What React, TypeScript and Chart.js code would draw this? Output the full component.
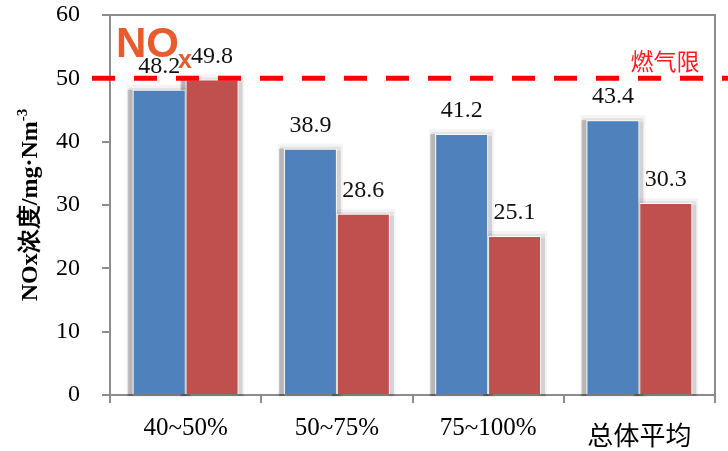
import React, { useEffect, useRef } from "react";
import { Chart, registerables } from "chart.js";

Chart.register(...registerables);

const categories = ["40~50%", "50~75%", "75~100%", "总体平均"];
const blueValues = [48.2, 38.9, 41.2, 43.4];
const redValues = [49.8, 28.6, 25.1, 30.3];
const limitValue = 50;
const limitLabel = "燃气限";
const yMin = 0;
const yMax = 60;
const yStep = 10;
const yTitleMain = "NOx浓度/mg·Nm";
const yTitleSup = "-3";
const titleMain = "NO";
const titleSub = "x";

const BLUE = "#4F81BD";
const RED = "#C0504D";
const AXIS = "#8c8c8c";

const shadowPlugin = {
  id: "barShadow",
  beforeDatasetsDraw(chart: any) {
    const ctx = chart.ctx;
    ctx.save();
    chart.data.datasets.forEach((_: any, di: number) => {
      const meta = chart.getDatasetMeta(di);
      meta.data.forEach((el: any) => {
        const w = el.width;
        const L = el.x - w / 2;
        const R = el.x + w / 2;
        const top = el.y;
        const base = el.base;
        ctx.fillStyle = "rgba(0,0,0,0.045)";
        ctx.fillRect(L - 6, top - 5, w + 12, base - top + 8);
        ctx.fillStyle = "rgba(0,0,0,0.07)";
        ctx.fillRect(L - 4, top - 2, w + 8, base - top + 4);
        ctx.fillStyle = "rgba(0,0,0,0.2)";
        ctx.fillRect(L - 5, top, 5, base - top + 2);
        ctx.fillStyle = "rgba(0,0,0,0.08)";
        ctx.fillRect(R, top + 2, 4, base - top);
      });
    });
    ctx.restore();
  },
};

const decorPlugin = {
  id: "decor",
  afterDraw(chart: any) {
    const ctx = chart.ctx;
    const area = chart.chartArea;
    const yScale = chart.scales.y;
    ctx.save();
    // top and right frame
    ctx.strokeStyle = AXIS;
    ctx.lineWidth = 2;
    ctx.beginPath();
    ctx.moveTo(area.left - 8, area.top);
    ctx.lineTo(area.right, area.top);
    ctx.lineTo(area.right, area.bottom + 8);
    ctx.stroke();

    // data labels
    ctx.fillStyle = "#111";
    ctx.font = "24px 'Liberation Serif', 'Times New Roman', serif";
    ctx.textAlign = "center";
    ctx.textBaseline = "alphabetic";
    chart.data.datasets.forEach((ds: any, di: number) => {
      const meta = chart.getDatasetMeta(di);
      meta.data.forEach((el: any, i: number) => {
        ctx.fillText(ds.data[i].toFixed(1), el.x, el.y - 17);
      });
    });

    // dashed limit line
    const ly = yScale.getPixelForValue(limitValue);
    ctx.strokeStyle = "#FF0000";
    ctx.lineWidth = 5;
    ctx.setLineDash([23, 19]);
    ctx.beginPath();
    ctx.moveTo(area.left - 18, ly);
    ctx.lineTo(chart.width, ly);
    ctx.stroke();
    ctx.setLineDash([]);

    // limit label
    ctx.fillStyle = "#FF1a1a";
    ctx.font = "23px 'Noto Sans CJK SC', sans-serif";
    ctx.textAlign = "center";
    ctx.textBaseline = "middle";
    ctx.fillText(limitLabel, 665, ly - 17);

    // NOx title
    ctx.fillStyle = "#E95A2C";
    ctx.textAlign = "left";
    ctx.textBaseline = "alphabetic";
    ctx.font = "bold 42px 'Liberation Sans', Arial, sans-serif";
    ctx.fillText(titleMain, 116, 57);
    ctx.font = "bold 25px 'Liberation Sans', Arial, sans-serif";
    ctx.fillText(titleSub, 178, 68);

    // y axis title
    ctx.fillStyle = "#000";
    ctx.translate(37, 205);
    ctx.rotate(-Math.PI / 2);
    const mainFont = "bold 24px 'Liberation Serif', 'Times New Roman', serif";
    const supFont = "bold 15px 'Liberation Serif', 'Times New Roman', serif";
    ctx.font = mainFont;
    const mw = ctx.measureText(yTitleMain).width;
    ctx.font = supFont;
    const sw = ctx.measureText(yTitleSup).width;
    const start = -(mw + sw) / 2;
    ctx.font = mainFont;
    ctx.fillText(yTitleMain, start, 0);
    ctx.font = supFont;
    ctx.fillText(yTitleSup, start + mw, -10);
    ctx.restore();
  },
};

export default function App() {
  const ref = useRef<HTMLCanvasElement | null>(null);
  useEffect(() => {
    if (!ref.current) return;
    const chart = new Chart(ref.current, {
      type: "bar",
      data: {
        labels: categories,
        datasets: [
          {
            data: blueValues,
            backgroundColor: BLUE,
            borderColor: "rgba(255,255,255,0.85)",
            borderWidth: 1,
            categoryPercentage: 0.7,
            barPercentage: 1,
          },
          {
            data: redValues,
            backgroundColor: RED,
            borderColor: "rgba(255,255,255,0.85)",
            borderWidth: 1,
            categoryPercentage: 0.7,
            barPercentage: 1,
          },
        ],
      },
      options: {
        responsive: false,
        animation: false,
        layout: { padding: { left: 0, right: 13, top: 15, bottom: 0 } },
        plugins: {
          legend: { display: false },
          tooltip: { enabled: false },
        },
        scales: {
          x: {
            afterFit(scale: any) {
              scale.height = 56;
              scale.paddingLeft = 0;
              scale.paddingRight = 0;
            },
            grid: {
              drawOnChartArea: false,
              drawTicks: true,
              tickLength: 8,
              color: AXIS,
              lineWidth: 2,
              offset: true,
            },
            border: { display: true, color: AXIS, width: 2 },
            ticks: {
              color: "#000",
              padding: 13,
              maxRotation: 0,
              font: (c: any) =>
                c.index === 3
                  ? { family: "'Noto Sans CJK SC', sans-serif", size: 26, lineHeight: 1.46 }
                  : { family: "'Liberation Serif', 'Times New Roman', serif", size: 25, lineHeight: 0.96 },
            },
          },
          y: {
            min: yMin,
            max: yMax,
            afterFit(scale: any) {
              scale.width = 110;
              scale.paddingTop = 0;
              scale.paddingBottom = 0;
            },
            grid: {
              drawOnChartArea: false,
              drawTicks: true,
              tickLength: 8,
              color: AXIS,
              lineWidth: 2,
            },
            border: { display: true, color: AXIS, width: 2 },
            ticks: {
              stepSize: yStep,
              color: "#000",
              padding: 22,
              font: { family: "'Liberation Serif', 'Times New Roman', serif", size: 24 },
            },
          },
        },
      },
      plugins: [shadowPlugin, decorPlugin],
    });
    return () => chart.destroy();
  }, []);
  return (
    <div style={{ position: "fixed", left: 0, top: 0, width: 728, height: 451, background: "#fff" }}>
      <canvas ref={ref} width={728} height={451} style={{ width: 728, height: 451, display: "block" }} />
    </div>
  );
}
